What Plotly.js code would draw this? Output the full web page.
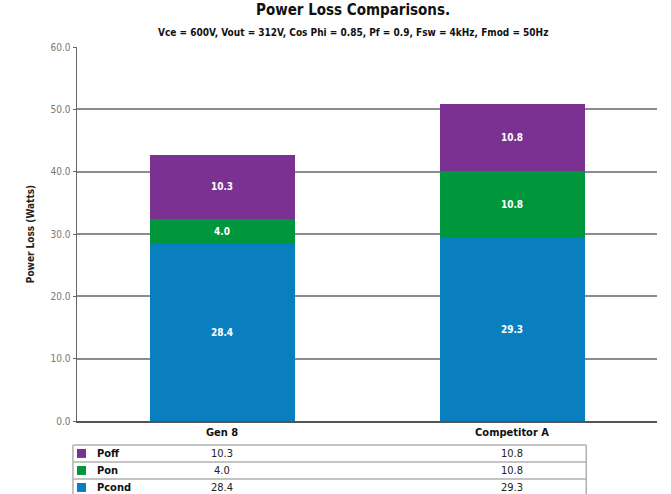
<!DOCTYPE html>
<html><head><meta charset="utf-8">
<script src="https://cdn.plot.ly/plotly-3.0.1.min.js"></script>
<style>body{margin:0;background:#fff}#c{width:671px;height:494px}</style>
</head><body><div id="c"></div>
<script>
const categories = ["Gen 8", "Competitor A"];
const seriesNames = ["Pcond", "Pon", "Poff"];
const pcond = [28.4, 29.3];
const pon = [4.0, 10.8];
const poff = [10.3, 10.8];
const yTicks = [0, 10, 20, 30, 40, 50, 60];
const colors = {Pcond: "#0a7fc0", Pon: "#00963c", Poff: "#7b3191"};
const values = {Pcond: pcond, Pon: pon, Poff: poff};
const tableRows = ["Poff", "Pon", "Pcond"];

const FONT = "'Liberation Sans Narrow', 'DejaVu Sans Condensed', 'Roboto Condensed', sans-serif";

const traces = seriesNames.map(n => ({
  type: "bar", name: n, x: categories, y: values[n],
  marker: {color: colors[n], line: {width: 0}},
  texttemplate: "<b>%{y:.1f}</b>", textposition: "inside", insidetextanchor: "middle",
  textfont: {color: "#ffffff", size: 10, family: FONT},
  hoverinfo: "skip"
}));

// table geometry in paper coords
const rowTop = -0.064, rowH = 0.0455;
const shapes = [];
const annotations = [];
const tblL = -0.007, tblR = 0.878;
// borders
for (let i = 0; i <= tableRows.length; i++) {
  const y = rowTop - i * rowH;
  shapes.push({type: "line", xref: "paper", yref: "paper", x0: tblL, x1: tblR, y0: y, y1: y,
    line: {color: "#b0b0b0", width: 1.5}});
}
[tblL, tblR].forEach(x => shapes.push({type: "line", xref: "paper", yref: "paper", x0: x, x1: x,
  y0: rowTop, y1: rowTop - tableRows.length * rowH, line: {color: "#b0b0b0", width: 1.5}}));

tableRows.forEach((n, i) => {
  const yc = rowTop - (i + 0.5) * rowH;
  shapes.push({type: "rect", xref: "paper", yref: "paper", x0: 0.0, x1: 0.0155,
    y0: yc - 0.012, y1: yc + 0.012, fillcolor: colors[n], line: {width: 0}});
  annotations.push({xref: "paper", yref: "paper", x: 0.031, y: yc, xanchor: "left", yanchor: "middle",
    text: "<b>" + n + "</b>", showarrow: false, font: {family: FONT, size: 11, color: "#111"}});
  values[n].forEach((v, j) => {
    annotations.push({xref: "x", yref: "paper", x: categories[j], y: yc, xanchor: "center", yanchor: "middle",
      text: v.toFixed(1), showarrow: false, font: {family: FONT, size: 11, color: "#222"}});
  });
});

annotations.push({xref: "paper", yref: "paper", x: 0.475, y: 1.1, xanchor: "center", yanchor: "middle",
  text: "<b>Power Loss Comparisons.</b>", showarrow: false, font: {family: FONT, size: 15, color: "#111"}});
annotations.push({xref: "paper", yref: "paper", x: 0.475, y: 1.04, xanchor: "center", yanchor: "middle",
  text: "<b>Vce = 600V, Vout = 312V, Cos Phi = 0.85, Pf = 0.9, Fsw = 4kHz, Fmod = 50Hz</b>", showarrow: false,
  font: {family: FONT, size: 10, color: "#111"}});

const layout = {
  width: 671, height: 494,
  margin: {l: 77, r: 14, t: 47, b: 73},
  paper_bgcolor: "#fff", plot_bgcolor: "#fff",
  barmode: "stack", bargap: 0.5, showlegend: false,
  font: {family: FONT},
  xaxis: {
    showgrid: false, showline: true, linecolor: "#555", linewidth: 1.5,
    ticks: "", tickfont: {family: FONT, size: 11, color: "#111"},
    tickvals: categories, ticktext: categories.map(c => "<b>" + c + "</b>")
  },
  yaxis: {
    range: [0, 60], tickvals: yTicks, ticktext: yTicks.map(v => v.toFixed(1)),
    showgrid: true, gridcolor: "#8c8c8c", gridwidth: 2,
    showline: true, linecolor: "#666", linewidth: 1.5,
    ticks: "outside", ticklen: 3, tickcolor: "#666",
    tickfont: {family: FONT, size: 10, color: "#777"},
    zeroline: false,
    title: {text: "<b>Power Loss (Watts)</b>", font: {family: FONT, size: 10, color: "#222"}, standoff: 14}
  },
  shapes: shapes,
  annotations: annotations
};

Plotly.newPlot("c", traces, layout, {displayModeBar: false, staticPlot: true});
</script></body></html>
